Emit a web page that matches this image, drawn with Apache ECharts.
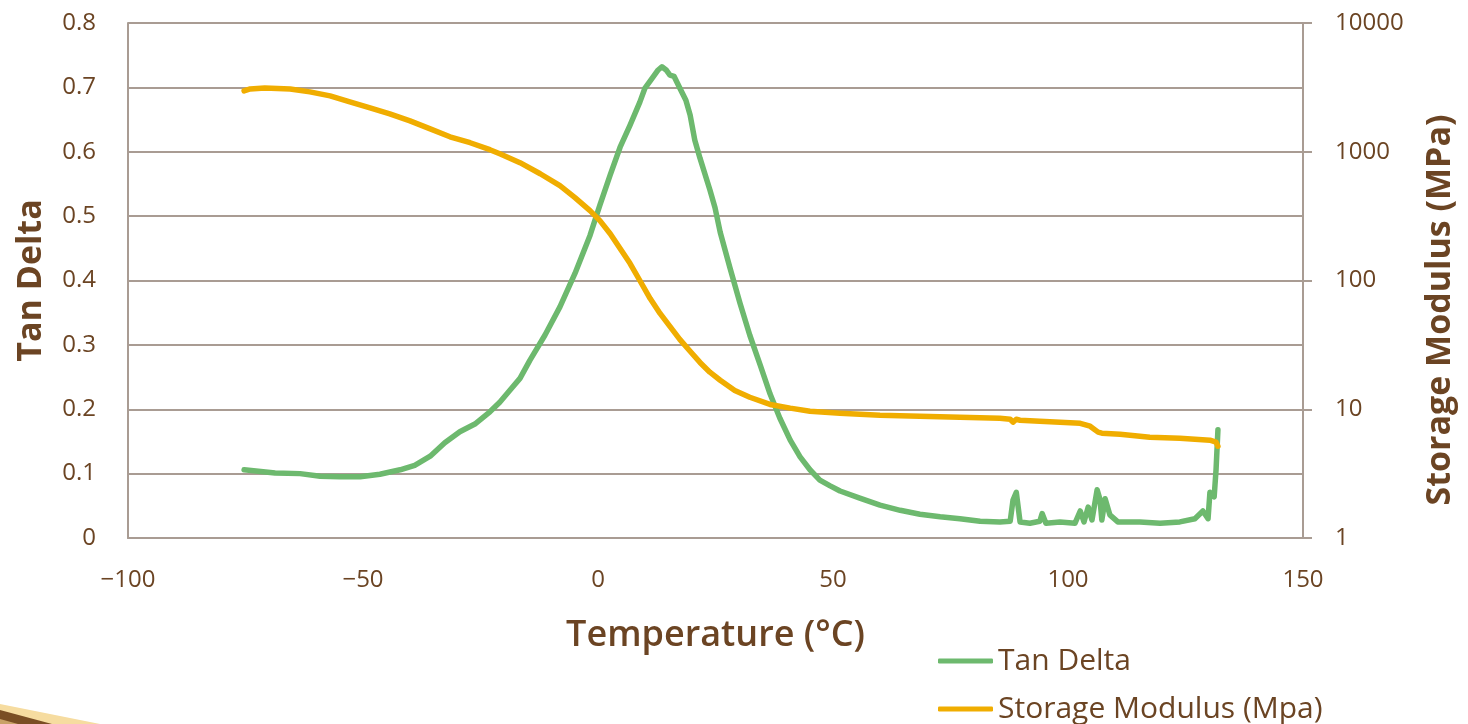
<!DOCTYPE html>
<html>
<head>
<meta charset="utf-8">
<title>Tan Delta and Storage Modulus</title>
<script src="https://cdn.jsdelivr.net/npm/echarts@6/dist/echarts.min.js"></script>
<style>
  html, body { margin: 0; padding: 0; background: #fff; }
  #chart { width: 1468px; height: 724px; }
</style>
</head>
<body>
<div id="chart"></div>
<script>
// temperature (°C) and tan delta
var tanTemp = [-75.3, -68.7, -63.4, -59.1, -54.9, -50.6, -46.4, -42.1, -39, -35.7, -32.6, -29.4, -26.2, -23, -20.9,
  -18.7, -16.6, -14.5, -11.3, -8.1, -4.9, -1.7, 0.4, 2.6, 4.7, 6.8, 8.9, 10, 11.5, 12.8, 13.6, 14.5, 15.3, 16.2,
  17.4, 18.7, 19.6, 20.6, 21.7, 23.8, 24.9, 26, 28.1, 30.2, 32.3, 34.5, 36.6, 38.7, 40.9, 43, 45.1, 47.2, 49.4,
  51.5, 55.7, 60, 64.3, 68.5, 72.8, 77, 81.3, 85.5, 87.7, 88.3, 89, 89.8, 91.9, 94, 94.5, 95.3, 98.3, 101.5,
  102.6, 103.4, 104.3, 105.1, 106.2, 106.8, 107.2, 107.9, 108.9, 110.6, 115.3, 119.6, 123.8, 127, 128.7, 129.8,
  130.2, 131.1, 131.5, 131.9];
var tanDelta = [0.106, 0.101, 0.1, 0.096, 0.095, 0.095, 0.099, 0.106, 0.113, 0.127, 0.148, 0.165, 0.177, 0.196, 0.211,
  0.23, 0.248, 0.276, 0.315, 0.359, 0.411, 0.47, 0.517, 0.564, 0.607, 0.641, 0.677, 0.699, 0.714, 0.727, 0.732, 0.727, 0.719, 0.717,
  0.699, 0.68, 0.657, 0.618, 0.59, 0.541, 0.513, 0.475, 0.419, 0.365, 0.315, 0.269, 0.224, 0.186, 0.152, 0.126, 0.106, 0.09, 0.081,
  0.073, 0.062, 0.051, 0.043, 0.037, 0.033, 0.03, 0.026, 0.025, 0.026, 0.059, 0.071, 0.025, 0.023, 0.026, 0.038, 0.023, 0.025, 0.023,
  0.042, 0.025, 0.048, 0.028, 0.075, 0.06, 0.028, 0.061, 0.036, 0.025, 0.025, 0.023, 0.025, 0.03, 0.042, 0.03,
  0.071, 0.064, 0.106, 0.168];

// temperature (°C) and storage modulus (MPa)
var modTemp = [-75.3, -74, -70.9, -65.5, -61.3, -57, -52.8, -48.5, -44.3, -40, -35.7, -31.5, -27.2, -23, -20.9, -16.6,
  -12.3, -8.1, -4.9, -1.7, 0.4, 2.6, 4.7, 6.8, 8.9, 11.1, 13.2, 15.3, 17.4, 19.6, 21.7, 23.8, 26, 29.1, 32.3, 36.6,
  40.9, 45.1, 51.5, 60, 68.5, 77, 85.5, 87.7, 88.3, 89, 89.8, 94, 98.3, 102.6, 104.7, 106.4, 107.2, 111.1, 117.4,
  123.8, 130.2, 131.5, 131.9];
var modulus = [2972, 3076, 3133, 3076, 2917, 2716, 2443, 2193, 1972, 1738, 1507, 1306, 1175, 1038, 964, 822,
  675, 545, 440, 349, 292, 231, 177, 136, 100, 72.4, 55.5, 44.0, 34.9, 28.2, 23.1, 19.4, 16.8, 14.0, 12.4, 10.9,
  10.2, 9.64, 9.31, 8.97, 8.83, 8.67, 8.51, 8.36, 7.93, 8.36, 8.22, 8.07, 7.93, 7.78, 7.38, 6.64, 6.52, 6.40, 6.07,
  5.96, 5.75, 5.55, 5.16];

var brown = '#6B4423';
var gridCol = '#A99C93';
var font = '"Open Sans", "Noto Sans", sans-serif';

function pairs(xs, ys) {
  return xs.map(function (x, i) { return [x, ys[i]]; });
}

function legendAt(top, name) {
  return {
    left: 933,
    top: top,
    itemWidth: 55,
    itemHeight: 5,
    icon: 'roundRect',
    textStyle: { fontFamily: font, fontSize: 30, color: brown },
    data: [name]
  };
}

var chart = echarts.init(document.getElementById('chart'));
chart.setOption({
  animation: false,
  textStyle: { fontFamily: font, color: brown },
  grid: { left: 128, right: 165, top: 23, bottom: 186, containLabel: false },
  legend: [legendAt(641, 'Tan Delta'), legendAt(689, 'Storage Modulus (Mpa)')],
  xAxis: {
    type: 'value',
    min: -100, max: 150, interval: 50,
    name: 'Temperature (°C)',
    nameLocation: 'middle',
    nameGap: 80,
    nameTextStyle: { fontFamily: font, fontSize: 36, fontWeight: 600, color: brown },
    axisLine: { show: true, onZero: false, lineStyle: { color: gridCol, width: 2 } },
    axisTick: { show: false },
    splitLine: { show: false },
    axisLabel: { fontSize: 24, color: brown, margin: 30, formatter: function (v) { return String(v).replace('-', '−'); } }
  },
  yAxis: [{
    type: 'value',
    min: 0, max: 0.8, interval: 0.1,
    name: 'Tan Delta',
    nameLocation: 'middle',
    nameGap: 80,
    nameTextStyle: { fontFamily: font, fontSize: 34, fontWeight: 'bold', color: brown },
    axisLine: { show: true, onZero: false, lineStyle: { color: gridCol, width: 2 } },
    axisTick: { show: false },
    splitLine: { show: true, lineStyle: { color: gridCol, width: 2 } },
    axisLabel: { fontSize: 24, color: brown, margin: 32, formatter: function (v) { return v === 0 ? '0' : v.toFixed(1); } }
  }, {
    type: 'log',
    logBase: 10,
    min: 1, max: 10000,
    position: 'right',
    axisLine: { show: true, onZero: false, lineStyle: { color: gridCol, width: 2 } },
    axisTick: { show: true, inside: false, length: 9, lineStyle: { color: gridCol, width: 2 } },
    splitLine: { show: false },
    axisLabel: { fontSize: 24, color: brown, margin: 32, formatter: function (v) { return String(v); } }
  }],
  series: [{
    name: 'Tan Delta',
    type: 'line',
    yAxisIndex: 0,
    showSymbol: false,
    symbol: 'none',
    color: '#6DB96E',
    lineStyle: { width: 5.5, cap: 'round', join: 'round' },
    data: pairs(tanTemp, tanDelta)
  }, {
    name: 'Storage Modulus (Mpa)',
    type: 'line',
    yAxisIndex: 1,
    showSymbol: false,
    symbol: 'none',
    color: '#F0AD00',
    lineStyle: { width: 5.5, cap: 'round', join: 'round' },
    data: pairs(modTemp, modulus)
  }],
  graphic: [
    // right axis title, sits a little below the plot middle
    {
      type: 'text', x: 1440, y: 310, rotation: Math.PI / 2, silent: true,
      style: {
        text: 'Storage Modulus (MPa)', fontFamily: font, fontSize: 34, fontWeight: 'bold',
        fill: brown, align: 'center', verticalAlign: 'middle'
      }
    },
    // corner decoration
    { type: 'polygon', shape: { points: [[0, 704], [100, 724], [0, 724]] }, style: { fill: '#F6DCA0' }, silent: true },
    { type: 'polygon', shape: { points: [[0, 710], [52, 724], [0, 724]] }, style: { fill: '#7A4E24' }, silent: true },
    { type: 'polygon', shape: { points: [[0, 719], [18, 724], [0, 724]] }, style: { fill: '#C9A268' }, silent: true }
  ]
});
</script>
</body>
</html>
